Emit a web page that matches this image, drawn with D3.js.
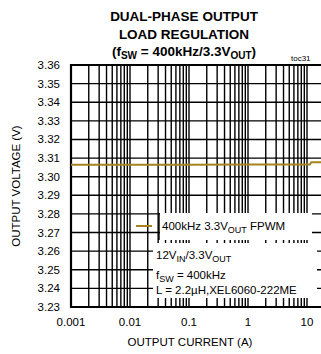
<!DOCTYPE html>
<html>
<head>
<meta charset="utf-8">
<script src="https://cdn.jsdelivr.net/npm/d3@7"></script>
<style>
  body { margin: 0; background: #fff; }
  text { font-family: "Liberation Sans", Arial, sans-serif; fill: #000; }
</style>
</head>
<body>
<script>
const width = 321,
      height = 354;

// data
const current = [0.001, 0.01, 0.1, 1, 5, 11.2, 11.8, 20];
const voltage = [3.3064, 3.3064, 3.3064, 3.3065, 3.3066, 3.3066, 3.3078, 3.3078];
const yTicks = [3.23, 3.24, 3.25, 3.26, 3.27, 3.28, 3.29, 3.30, 3.31, 3.32, 3.33, 3.34, 3.35, 3.36];
const xTicks = [0.001, 0.01, 0.1, 1, 10];
const xTickLabels = ["0.001", "0.01", "0.1", "1", "10"];

const svg = d3.select("body")
    .append("svg")
    .attr("width", width)
    .attr("height", height);

// plot runs past the right edge of the picture (cropped like the original)
const x = d3.scaleLog()
    .domain([0.001, 20])
    .range([71, 71 + 59 * Math.log10(20000)]);

const y = d3.scaleLinear()
    .domain([3.23, 3.36])
    .range([307, 65]);

// minor + major vertical grid
let grid = [];
for (let e = -3; e <= 1; e++) {
  for (let m = 1; m <= 9; m++) {
    const v = m * Math.pow(10, e);
    if (v <= 20) grid.push(v);
  }
}
grid.push(20);

svg.append("g")
    .selectAll("line")
    .data(grid)
    .enter().append("line")
    .attr("x1", d => x(d))
    .attr("x2", d => x(d))
    .attr("y1", y(3.36))
    .attr("y2", y(3.23))
    .attr("stroke", "#000")
    .attr("stroke-width", 1.4);

svg.append("g")
    .selectAll("line")
    .data(yTicks)
    .enter().append("line")
    .attr("x1", x(0.001))
    .attr("x2", width + 10)
    .attr("y1", d => y(d))
    .attr("y2", d => y(d))
    .attr("stroke", "#000")
    .attr("stroke-width", 1.4);

// plot frame (left, top, bottom)
svg.append("path")
    .attr("d", `M${width + 10},${y(3.36)}H${x(0.001)}V${y(3.23)}H${width + 10}`)
    .attr("fill", "none")
    .attr("stroke", "#000")
    .attr("stroke-width", 2.2);

// data line
const line = d3.line()
    .x(d => x(d[0]))
    .y(d => y(d[1]));

svg.append("path")
    .datum(current.map((c, i) => [c, voltage[i]]))
    .attr("d", line)
    .attr("fill", "none")
    .attr("stroke", "#a3841f")
    .attr("stroke-width", 2);

// legend boxes
svg.append("rect")
    .attr("x", 160).attr("y", 213)
    .attr("width", 152).attr("height", 27)
    .attr("fill", "#fff");

svg.append("line")
    .attr("x1", 159).attr("x2", 159)
    .attr("y1", 213).attr("y2", 240)
    .attr("stroke", "#000").attr("stroke-width", 1.4);

svg.append("line")
    .attr("x1", 136).attr("x2", 152)
    .attr("y1", 226).attr("y2", 226)
    .attr("stroke", "#a3841f").attr("stroke-width", 2);

svg.append("rect")
    .attr("x", 153).attr("y", 243)
    .attr("width", 164).attr("height", 55)
    .attr("fill", "#fff");

const leg = svg.append("text")
    .attr("x", 162).attr("y", 230)
    .attr("font-size", 11.5);
leg.append("tspan").text("400kHz 3.3V");
leg.append("tspan").attr("font-size", 9).attr("dy", 3).text("OUT");
leg.append("tspan").attr("dy", -3).text(" FPWM");

const n1 = svg.append("text")
    .attr("x", 156).attr("y", 259)
    .attr("font-size", 11.5);
n1.append("tspan").text("12V");
n1.append("tspan").attr("font-size", 9).attr("dy", 3).text("IN");
n1.append("tspan").attr("dy", -3).text("/3.3V");
n1.append("tspan").attr("font-size", 9).attr("dy", 3).text("OUT");

const n2 = svg.append("text")
    .attr("x", 156).attr("y", 279)
    .attr("font-size", 11.5);
n2.append("tspan").text("f");
n2.append("tspan").attr("font-size", 9).attr("dy", 3).text("SW");
n2.append("tspan").attr("dy", -3).text(" = 400kHz");

svg.append("text")
    .attr("x", 156).attr("y", 294)
    .attr("font-size", 11.5)
    .text("L = 2.2µH,XEL6060-222ME");

// tick labels
svg.append("g")
    .selectAll("text")
    .data(yTicks)
    .enter().append("text")
    .attr("x", 60)
    .attr("y", d => y(d) + 4)
    .attr("text-anchor", "end")
    .attr("font-size", 11.5)
    .text(d => d.toFixed(2));

svg.append("g")
    .selectAll("text")
    .data(xTicks)
    .enter().append("text")
    .attr("x", d => x(d))
    .attr("y", 326)
    .attr("text-anchor", "middle")
    .attr("font-size", 11.5)
    .text((d, i) => xTickLabels[i]);

// axis titles
svg.append("text")
    .attr("x", 190).attr("y", 346)
    .attr("text-anchor", "middle")
    .attr("font-size", 11.5)
    .text("OUTPUT CURRENT (A)");

svg.append("text")
    .attr("transform", "translate(20,186) rotate(-90)")
    .attr("text-anchor", "middle")
    .attr("font-size", 11.5)
    .text("OUTPUT VOLTAGE (V)");

// title
const title = svg.append("g")
    .attr("font-weight", "bold")
    .attr("font-size", 13.5)
    .attr("text-anchor", "middle");

title.append("text").attr("x", 184).attr("y", 21).text("DUAL-PHASE OUTPUT");
title.append("text").attr("x", 184).attr("y", 39).text("LOAD REGULATION");
const t3 = title.append("text").attr("x", 184).attr("y", 56);
t3.append("tspan").text("(f");
t3.append("tspan").attr("font-size", 10).attr("dy", 3).text("SW");
t3.append("tspan").attr("dy", -3).text(" = 400kHz/3.3V");
t3.append("tspan").attr("font-size", 10).attr("dy", 3).text("OUT");
t3.append("tspan").attr("dy", -3).text(")");

svg.append("text")
    .attr("x", 291).attr("y", 61)
    .attr("font-size", 8)
    .text("toc31");
</script>
</body>
</html>
